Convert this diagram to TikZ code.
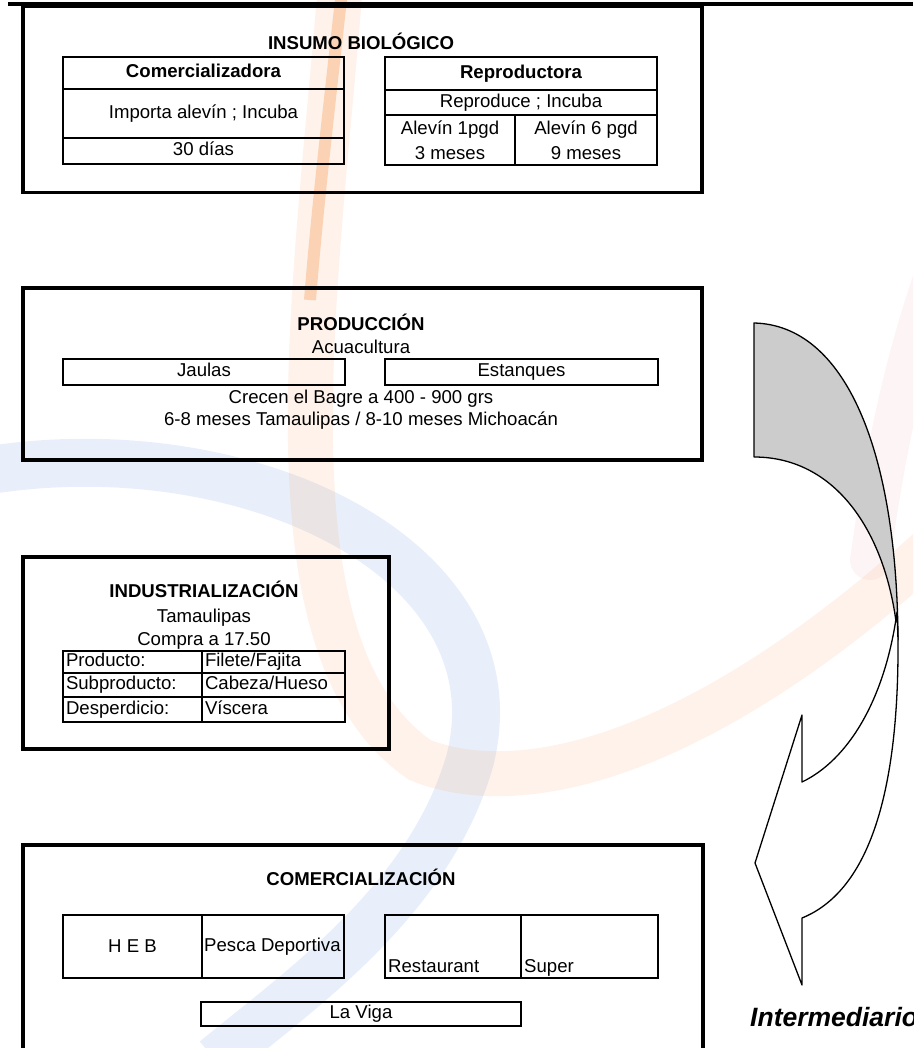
\documentclass[tikz,border=0pt]{standalone}
\usepackage{fontspec}
\setmainfont{Liberation Sans}
\usetikzlibrary{positioning}
\definecolor{backgray}{RGB}{204,204,204}
\definecolor{wmorange}{RGB}{245,150,80}
\definecolor{wmpink}{RGB}{240,170,170}
\definecolor{wmblue}{RGB}{200,215,242}
\tikzset{
every node/.style={font=\fontsize{18.6}{25}\selectfont, inner sep=0pt}, % Arial-like text everywhere
heading/.style={font=\fontsize{18.6}{25}\selectfont\bfseries}, % stage titles
stagebox/.style={draw, line width=3.5pt, anchor=north west}, % the four big frames
cell/.style={draw, line width=2.7pt, anchor=north west, outer sep=0pt, align=center}, % thick table cells
onecell/.style={cell, text height=13.5pt, text depth=4pt}, % single line cells
rowcell/.style={draw, line width=2pt, anchor=north west, outer sep=0pt, text width=#1, inner xsep=3pt, align=left, text height=13.5pt, text depth=4pt}, % left aligned cells
salecell/.style={draw, line width=2.2pt, anchor=north west, outer sep=0pt}, % market cells
arrowpart/.style={draw=black, line width=1.3pt, line join=round}, % curved arrow pieces
}

\begin{document}
\begin{tikzpicture}[x=1pt, y=-1pt]
        \useasboundingbox (0,0) rectangle (913,1048);
        \clip (0,0) rectangle (913,1048);

        % faint logo behind
        \draw[wmblue, line width=48pt, opacity=0.4] (-10,470) .. controls (250,430) and (520,560) .. (470,760) .. controls (430,900) and (300,990) .. (215,1060);
        \draw[wmorange, line width=45pt, opacity=0.12] (340,-10) .. controls (315,300) and (260,650) .. (420,760) .. controls (520,800) and (700,760) .. (940,540);
        \draw[wmpink, line width=40pt, opacity=0.12, line cap=round] (950,230) .. controls (910,340) and (890,420) .. (870,560);
        \draw[wmorange, line width=12pt, opacity=0.35] (342,-10) .. controls (330,100) and (318,200) .. (310,300);

        % insumo
        \draw[line width=3.5pt] (8,4) -- (913,4);
        \node[stagebox, minimum width=679, minimum height=186] (insumo) at (21,5) {};
        \node[heading, anchor=base] (insumotitle) at (361,50) {INSUMO BIOLÓGICO};
        \node[onecell, heading, minimum width=281, minimum height=32] (comer) at (63,57) {Comercializadora};
        \node[onecell, minimum width=281, minimum height=49, below=0pt of comer] (importa) {Importa alevín ; Incuba};
        \node[onecell, minimum width=281, minimum height=26, below=0pt of importa] (dias) {30 días};
        \node[onecell, heading, minimum width=272, minimum height=33] (repro) at (385,57) {Reproductora};
        \node[onecell, minimum width=272, minimum height=25, below=0pt of repro] (reproduce) {Reproduce ; Incuba};
        \node[cell, minimum width=130, minimum height=50, below=0pt of reproduce.south west, anchor=north west] (alevuno) {Alevín 1pgd\\3 meses};
        \node[cell, minimum width=142, minimum height=50, right=0pt of alevuno] (alevseis) {Alevín 6 pgd\\9 meses};

        % produccion
        \node[stagebox, minimum width=679, minimum height=172] (produccion) at (21,286) {};
        \node[heading, anchor=base] (prodtitle) at (361,330) {PRODUCCIÓN};
        \node[anchor=base] (acua) at (361,353) {Acuacultura};
        \node[onecell, minimum width=282, minimum height=26] (jaulas) at (63,359) {Jaulas};
        \node[onecell, minimum width=273, minimum height=26] (estanques) at (385,359) {Estanques};
        \node[anchor=base] (crecen) at (361,403) {Crecen el Bagre a 400 - 900 grs};
        \node[anchor=base] (meses) at (361,425) {6-8 meses Tamaulipas / 8-10 meses Michoacán};

        % industrializacion
        \node[stagebox, minimum width=366, minimum height=192] (industria) at (21,555) {};
        \node[heading, anchor=base] (indtitle) at (204,597) {INDUSTRIALIZACIÓN};
        \node[anchor=base] (tamps) at (204,622) {Tamaulipas};
        \node[anchor=base] (compra) at (204,645) {Compra a 17.50};
        \node[rowcell=133pt, minimum height=22] (producto) at (63,651) {Producto:};
        \node[rowcell=137pt, minimum height=22, right=0pt of producto] (filete) {Filete/Fajita};
        \node[rowcell=133pt, minimum height=24, below=0pt of producto.south west, anchor=north west] (subprod) {Subproducto:};
        \node[rowcell=137pt, minimum height=24, right=0pt of subprod] (cabeza) {Cabeza/Hueso};
        \node[rowcell=133pt, minimum height=25, below=0pt of subprod.south west, anchor=north west] (desper) {Desperdicio:};
        \node[rowcell=137pt, minimum height=25, right=0pt of desper] (viscera) {Víscera};

        % comercializacion
        \node[stagebox, minimum width=680, minimum height=240] (comercial) at (21,843) {};
        \node[heading, anchor=base] (comtitle) at (361,885) {COMERCIALIZACIÓN};
        \node[salecell, minimum width=139, minimum height=63] (heb) at (63,915) {H E B};
        \node[salecell, minimum width=142, minimum height=63, right=0pt of heb] (pesca) {};
        \node[anchor=west] (pescatext) at ([xshift=2pt]pesca.west) {Pesca Deportiva};
        \node[salecell, minimum width=136, minimum height=63] (restaurant) at (385,915) {};
        \node[salecell, minimum width=137, minimum height=63, right=0pt of restaurant] (super) {};
        \node[anchor=base west] (resttext) at ([shift={(3,-6)}]restaurant.south west) {Restaurant};
        \node[anchor=base west] (supertext) at ([shift={(3,-6)}]super.south west) {Super};
        \node[salecell, minimum width=320, minimum height=24, text height=13.5pt, text depth=4pt] (laviga) at (201,1002) {La Viga};

        % curved arrow
        \fill[backgray, arrowpart] (754,323) .. controls (845,325) and (897,450) .. (898,640) .. controls (890,540) and (840,457) .. (754,457) -- cycle;
        \fill[white, arrowpart] (897,612) -- (898,640) .. controls (899,800) and (866,892) .. (802,918) -- (802,985) -- (755,863) -- (802,715) -- (802,782) .. controls (848,760) and (885,700) .. (897,612) -- cycle;
        \node[font=\fontsize{26.5}{30}\selectfont\bfseries\itshape, anchor=base west] (interm) at (750,1026) {Intermediario};
      \end{tikzpicture}
\end{document}
